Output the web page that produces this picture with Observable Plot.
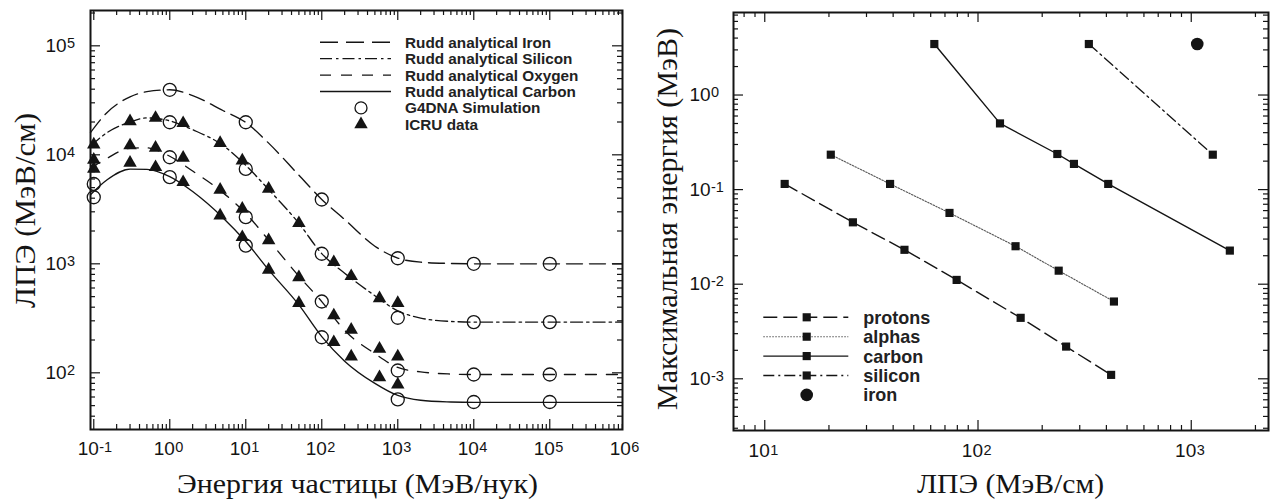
<!DOCTYPE html>
<html>
<head>
<meta charset="utf-8">
<script src="https://cdn.jsdelivr.net/npm/d3@7"></script>
<script src="https://cdn.jsdelivr.net/npm/@observablehq/plot@0.6"></script>
<style>
html,body{margin:0;padding:0;background:#fff;}
#wrap{position:relative;width:1280px;height:503px;display:flex;overflow:hidden;}
.panel{position:relative;width:640px;height:503px;flex:none;}
.panel svg{display:block;}
.overlay{position:absolute;left:0;top:0;pointer-events:none;overflow:visible;}
</style>
</head>
<body>
<div id="wrap"><div class="panel" id="left"></div><div class="panel" id="right"></div></div>
<script>
const INK = "#141414";
const SANS = "Liberation Sans, Arial, Helvetica, sans-serif";
const SERIF = "Liberation Serif, Times New Roman, serif";

// ---------- Left panel: LET vs particle energy ----------
const ruddEnergy  = [0.0905, 0.15, 0.3, 0.5, 1, 2, 5, 10, 20, 50, 100, 200, 500, 1000, 2000, 5000, 10000, 100000, 905000];
const ruddIron    = [16000, 24500, 34000, 38000, 39500, 35000, 25500, 19800, 12800, 6500, 3900, 2550, 1450, 1130, 1035, 1008, 1000, 1000, 1000];
const ruddSilicon = [12000, 16000, 20000, 21800, 20500, 17000, 12200, 8000, 4800, 2350, 1240, 820, 510, 370, 318, 296, 292, 292, 292];
const ruddOxygen  = [7500, 9300, 11500, 11600, 9700, 7100, 4500, 2900, 1650, 770, 450, 245, 150, 112, 102, 97.5, 96.5, 96.5, 96.5];
const ruddCarbon  = [4300, 5900, 7400, 7350, 6300, 4600, 2650, 1600, 880, 420, 215, 128, 80, 62, 56, 54, 53.5, 53.5, 53.5];

const g4Energy  = [0.1, 1, 10, 100, 1000, 10000, 100000];
const g4Iron    = [null, 39500, 19900, 3890, 1125, 1000, 1000];
const g4Silicon = [null, 19900, 7420, 1237, 320, 292, 292];
const g4Oxygen  = [5400, 9500, 2680, 451, 105, 96.5, 96.5];
const g4Carbon  = [4080, 6240, 1470, 212, 57, 54, 54];

const icruEnergy  = [0.1, 0.3, 0.65, 1.5, 4.6, 9, 20, 50, 144, 244, 575, 1000];
const icruSilicon = [12400, 20300, 21800, 19500, 12800, 8870, 4870, 2360, 1035, 770, 483, 436];
const icruOxygen  = [9000, 12200, 11600, 9380, 4780, 3200, 1640, 753, 336, 248, 166, 141];
const icruCarbon  = [7450, 8450, 7700, 5610, 2770, 1755, 880, 436, 191, 141, 91, 78];

const leftLegendLabels = ["Rudd analytical Iron", "Rudd analytical Silicon", "Rudd analytical Oxygen", "Rudd analytical Carbon", "G4DNA Simulation", "ICRU data"];
const leftXTitle = "Энергия частицы (МэВ/нук)";
const leftYTitle = "ЛПЭ (МэВ/см)";
const leftXTickValues = [0.1, 1, 10, 100, 1000, 10000, 100000, 1000000];
const leftXTickExp    = ["-1", "0", "1", "2", "3", "4", "5", "6"];
const leftYTickValues = [100, 1000, 10000, 100000];
const leftYTickExp    = ["2", "3", "4", "5"];

// ---------- Right panel: max energy vs LET ----------
const protonsLET = [12.4, 25.9, 45.2, 79.4, 158.5, 259, 421];
const protonsE   = [0.1148, 0.0451, 0.0231, 0.0111, 0.00441, 0.00219, 0.0011];
const alphasLET  = [20.4, 38.7, 73.5, 150, 239, 434];
const alphasE    = [0.234, 0.1148, 0.0567, 0.0252, 0.0139, 0.00656];
const carbonLET  = [62.4, 126.8, 235.5, 281.8, 408, 1517];
const carbonE    = [3.46, 0.501, 0.238, 0.187, 0.1148, 0.02266];
const siliconLET = [331, 1262];
const siliconE   = [3.46, 0.234];
const ironLET    = [1067];
const ironE      = [3.46];

const rightLegendLabels = ["protons", "alphas", "carbon", "silicon", "iron"];
const rightXTitle = "ЛПЭ (МэВ/см)";
const rightYTitle = "Максимальная энергия (МэВ)";
const rightXTickValues = [10, 100, 1000];
const rightXTickExp    = ["1", "2", "3"];
const rightYTickValues = [0.001, 0.01, 0.1, 1];
const rightYTickExp    = ["-3", "-2", "-1", "0"];

// ---------- helpers ----------
const zip = (xs, ys) => xs.map((x, i) => ({x, y: ys[i]})).filter(d => d.y != null);

function decadeTicks(domain) {
  const a = Math.log10(domain[0]), b = Math.log10(domain[1]);
  const majors = [], minors = [];
  for (let e = Math.floor(a); e <= Math.ceil(b); e++) {
    const p = Math.pow(10, e);
    if (p >= domain[0] && p <= domain[1]) majors.push(p);
    for (let k = 2; k <= 9; k++) {
      const v = k * p;
      if (v > domain[0] && v < domain[1]) minors.push(v);
    }
  }
  return {majors, minors};
}

function frameTicks(xd, yd, iw, ih, major, minor) {
  const tx = decadeTicks(xd), ty = decadeTicks(yd);
  const st = {stroke: INK, strokeWidth: 1.2};
  return [
    Plot.tickX(tx.majors, {x: d => d, insetTop: ih - major, ...st}),
    Plot.tickX(tx.majors, {x: d => d, insetBottom: ih - major, ...st}),
    Plot.tickX(tx.minors, {x: d => d, insetTop: ih - minor, ...st}),
    Plot.tickX(tx.minors, {x: d => d, insetBottom: ih - minor, ...st}),
    Plot.tickY(ty.majors, {y: d => d, insetRight: iw - major, ...st}),
    Plot.tickY(ty.majors, {y: d => d, insetLeft: iw - major, ...st}),
    Plot.tickY(ty.minors, {y: d => d, insetRight: iw - minor, ...st}),
    Plot.tickY(ty.minors, {y: d => d, insetLeft: iw - minor, ...st})
  ];
}

const BASE_FS = 19, EXP_FS = 14.5;
function xTickLabels(vals, exps, dy) {
  return [
    Plot.text(vals, {x: d => d, text: () => "10", frameAnchor: "bottom", textAnchor: "end", dx: 5, dy, fontSize: BASE_FS, fontFamily: SANS, fill: INK, ariaLabel: "tick-base"}),
    Plot.text(vals, {x: d => d, text: (d, i) => exps[i], frameAnchor: "bottom", textAnchor: "start", dx: 5.5, dy: dy - 2.5, fontSize: EXP_FS, fontFamily: SANS, fill: INK, ariaLabel: "tick-exp"})
  ];
}
function yTickLabels(vals, exps, dx) {
  return [
    Plot.text(vals, {y: d => d, text: () => "10", frameAnchor: "left", textAnchor: "start", dx, fontSize: BASE_FS, fontFamily: SANS, fill: INK, ariaLabel: "tick-base"}),
    Plot.text(vals, {y: d => d, text: (d, i) => exps[i], frameAnchor: "left", textAnchor: "start", dx: dx + 21.5, dy: -2.5, fontSize: EXP_FS, fontFamily: SANS, fill: INK, ariaLabel: "tick-exp"})
  ];
}

// ---------- left plot ----------
const LM = {w: 640, h: 503, t: 10, r: 18, b: 74, l: 90};
const LxDom = [Math.pow(10, -1.043), Math.pow(10, 5.957)];
const LyDom = [Math.pow(10, 1.48), Math.pow(10, 5.324)];
const LIW = LM.w - LM.l - LM.r, LIH = LM.h - LM.t - LM.b;

const DASH = {iron: "16,7", silicon: "12,4,2.5,4", oxygen: "11,10", carbon: null};
const ruddSeries = [[ruddIron, DASH.iron], [ruddSilicon, DASH.silicon], [ruddOxygen, DASH.oxygen], [ruddCarbon, DASH.carbon]];

const leftPlot = Plot.plot({
  width: LM.w, height: LM.h,
  marginTop: LM.t, marginRight: LM.r, marginBottom: LM.b, marginLeft: LM.l,
  style: {background: "#fff", overflow: "visible"},
  x: {type: "log", domain: LxDom, axis: null},
  y: {type: "log", domain: LyDom, axis: null},
  marks: [
    ...ruddSeries.map(([vals, dash]) => Plot.line(zip(ruddEnergy, vals), {x: "x", y: "y", curve: "monotone-x", stroke: INK, strokeWidth: 1.35, strokeDasharray: dash})),
    ...[g4Iron, g4Silicon, g4Oxygen, g4Carbon].map(vals => Plot.dot(zip(g4Energy, vals), {x: "x", y: "y", r: 6.5, fill: "none", stroke: INK, strokeWidth: 1.3})),
    ...[icruSilicon, icruOxygen, icruCarbon].map(vals => Plot.dot(zip(icruEnergy, vals), {x: "x", y: "y", symbol: "triangle", r: 5, fill: INK, stroke: "none"})),
    ...frameTicks(LxDom, LyDom, LIW, LIH, 10, 5),
    ...xTickLabels(leftXTickValues, leftXTickExp, 25),
    ...yTickLabels(leftYTickValues, leftYTickExp, -45),
    Plot.frame({stroke: INK, strokeWidth: 2})
  ]
});
document.getElementById("left").appendChild(leftPlot);

// ---------- right plot ----------
const RM = {w: 640, h: 503, t: 12, r: 12, b: 73, l: 93};
const RxDom = [7.135, 2303];
const RyDom = [2.84e-4, 7.455];
const RIW = RM.w - RM.l - RM.r, RIH = RM.h - RM.t - RM.b;

const RSTYLE = {
  protons: {stroke: INK, strokeWidth: 1.4, strokeDasharray: "14,6"},
  alphas:  {stroke: "#555", strokeWidth: 1.1, strokeDasharray: "1.5,1.5"},
  carbon:  {stroke: INK, strokeWidth: 1.4, strokeDasharray: null},
  silicon: {stroke: INK, strokeWidth: 1.3, strokeDasharray: "11,4,2,4"}
};
const rightSeries = [[protonsLET, protonsE, RSTYLE.protons], [alphasLET, alphasE, RSTYLE.alphas], [carbonLET, carbonE, RSTYLE.carbon], [siliconLET, siliconE, RSTYLE.silicon]];

const rightPlot = Plot.plot({
  width: RM.w, height: RM.h,
  marginTop: RM.t, marginRight: RM.r, marginBottom: RM.b, marginLeft: RM.l,
  style: {background: "#fff", overflow: "visible"},
  x: {type: "log", domain: RxDom, axis: null},
  y: {type: "log", domain: RyDom, axis: null},
  marks: [
    ...rightSeries.map(([xs, ys, st]) => Plot.line(zip(xs, ys), {x: "x", y: "y", ...st})),
    ...rightSeries.map(([xs, ys]) => Plot.dot(zip(xs, ys), {x: "x", y: "y", symbol: "square", r: 4.6, fill: INK, stroke: "none"})),
    Plot.dot(zip(ironLET, ironE), {x: "x", y: "y", r: 6.3, fill: INK}),
    ...frameTicks(RxDom, RyDom, RIW, RIH, 10, 5),
    ...xTickLabels(rightXTickValues, rightXTickExp, 26.7),
    ...yTickLabels(rightYTickValues, rightYTickExp, -44),
    Plot.frame({stroke: INK, strokeWidth: 2})
  ]
});
document.getElementById("right").appendChild(rightPlot);

// ---------- fit tick label font so that "10" is ~21px wide ----------
function fitTickFonts(svg) {
  const base = svg.querySelectorAll('g[aria-label="tick-base"]');
  const exps = svg.querySelectorAll('g[aria-label="tick-exp"]');
  if (!base.length) return;
  const t = base[0].querySelector("text");
  const len = t ? t.getComputedTextLength() : 0;
  const k = len > 0 ? Math.max(0.8, Math.min(1.3, 21 / len)) : 1;
  base.forEach(g => g.setAttribute("font-size", BASE_FS * k));
  exps.forEach(g => g.setAttribute("font-size", EXP_FS * k));
}
fitTickFonts(leftPlot);
fitTickFonts(rightPlot);

// ---------- overlays: legends and axis titles ----------
function overlay(panelId) {
  return d3.select("#" + panelId).append("svg").attr("class", "overlay").attr("width", 640).attr("height", 503);
}

function drawLegend(svg, labels, rows, o) {
  const texts = [];
  labels.forEach((label, i) => {
    const r = rows[i], y = o.y0 + i * o.dy;
    if (r.line) {
      svg.append("line").attr("x1", o.x1).attr("x2", o.x2).attr("y1", y).attr("y2", y)
        .attr("stroke", r.line.stroke).attr("stroke-width", r.line.strokeWidth)
        .attr("stroke-dasharray", r.line.strokeDasharray);
    }
    if (r.symbol) {
      svg.append("path").attr("transform", `translate(${o.xs},${y})`)
        .attr("d", d3.symbol(r.symbol, Math.PI * r.r * r.r)())
        .attr("fill", r.fill).attr("stroke", r.stroke || "none").attr("stroke-width", r.sw || 0);
    }
    texts.push(svg.append("text").attr("x", o.xt).attr("y", y).attr("dy", "0.36em")
      .attr("font-family", SANS).attr("font-weight", "bold").attr("font-size", o.fs)
      .attr("fill", "#222").text(label));
  });
  const ref = texts[o.refIndex].node().getComputedTextLength();
  if (ref > 0) {
    const fs = o.fs * Math.max(0.8, Math.min(1.35, o.refWidth / ref));
    texts.forEach(t => t.attr("font-size", fs));
  }
}

function drawTitle(svg, text, x, y, rotate, target, fs) {
  const t = svg.append("text")
    .attr("transform", `translate(${x},${y})${rotate ? " rotate(-90)" : ""}`)
    .attr("text-anchor", "middle").attr("font-family", SERIF).attr("font-size", fs)
    .attr("fill", INK).text(text);
  const len = t.node().getComputedTextLength();
  if (len > 0 && Math.abs(len - target) / target < 0.25) {
    t.attr("textLength", target).attr("lengthAdjust", "spacingAndGlyphs");
  }
}

const leftOv = overlay("left");
drawLegend(leftOv, leftLegendLabels, [
  {line: {stroke: INK, strokeWidth: 1.5, strokeDasharray: "18,8"}},
  {line: {stroke: INK, strokeWidth: 1.3, strokeDasharray: DASH.silicon}},
  {line: {stroke: INK, strokeWidth: 1.4, strokeDasharray: DASH.oxygen}},
  {line: {stroke: INK, strokeWidth: 1.4, strokeDasharray: null}},
  {symbol: d3.symbolCircle, r: 6, fill: "none", stroke: INK, sw: 1.3},
  {symbol: d3.symbolTriangle, r: 5, fill: INK}
], {y0: 42.3, dy: 16.4, x1: 320, x2: 391, xs: 361, xt: 405, fs: 15, refIndex: 3, refWidth: 171});
drawTitle(leftOv, leftXTitle, 357.5, 493, false, 361, 28);
drawTitle(leftOv, leftYTitle, 35, 210.5, true, 195, 29);

const rightOv = overlay("right");
drawLegend(rightOv, rightLegendLabels, [
  {line: RSTYLE.protons, symbol: d3.symbolSquare, r: 4.6, fill: INK},
  {line: RSTYLE.alphas, symbol: d3.symbolSquare, r: 4.6, fill: INK},
  {line: RSTYLE.carbon, symbol: d3.symbolSquare, r: 4.6, fill: INK},
  {line: RSTYLE.silicon, symbol: d3.symbolSquare, r: 4.6, fill: INK},
  {symbol: d3.symbolCircle, r: 6.3, fill: INK}
], {y0: 317.3, dy: 19.4, x1: 123.3, x2: 208.3, xs: 166.7, xt: 223.3, fs: 17, refIndex: 0, refWidth: 67});
drawTitle(rightOv, rightXTitle, 370.5, 492.5, false, 187, 28);
drawTitle(rightOv, rightYTitle, 37, 219, true, 382, 29);
</script>
</body>
</html>
